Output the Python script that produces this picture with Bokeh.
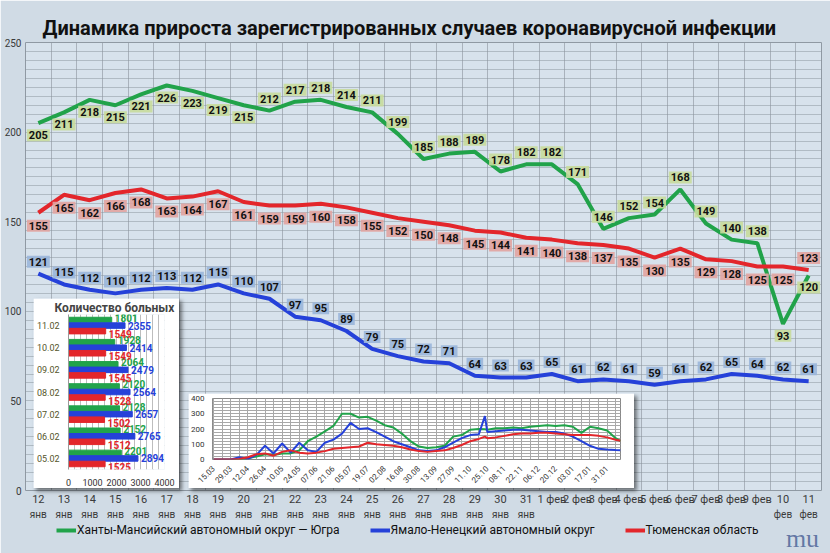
import math

import pandas as pd
from bokeh.core.properties import value
from bokeh.embed import file_html
from bokeh.models import (ColumnDataSource, DatetimeTickFormatter, FactorRange,
                          FixedTicker, Label, Legend, LegendItem, LinearAxis)
from bokeh.plotting import figure
from bokeh.resources import INLINE
from bokeh.transform import dodge

TITLE = "Динамика прироста зарегистрированных случаев коронавирусной инфекции"

day_labels = ["12\nянв", "13\nянв", "14\nянв", "15\nянв", "16\nянв", "17\nянв",
              "18\nянв", "19\nянв", "20\nянв", "21\nянв", "22\nянв", "23\nянв",
              "24\nянв", "25\nянв", "26\nянв", "27\nянв", "28\nянв", "29\nянв",
              "30\nянв", "31\nянв", "1 фев", "2 фев", "3 фев", "4 фев", "5 фев",
              "6 фев", "7 фев", "8 фев", "9 фев", "10\nфев", "11\nфев"]

hmao = [205, 211, 218, 215, 221, 226, 223, 219, 215, 212, 217, 218, 214, 211, 199, 185,
        188, 189, 178, 182, 182, 171, 146, 152, 154, 168, 149, 140, 138, 93, 120]
yanao = [121, 115, 112, 110, 112, 113, 112, 115, 110, 107, 97, 95, 89, 79, 75, 72,
         71, 64, 63, 63, 65, 61, 62, 61, 59, 61, 62, 65, 64, 62, 61]
tyumen = [155, 165, 162, 166, 168, 163, 164, 167, 161, 159, 159, 160, 158, 155, 152, 150,
          148, 145, 144, 141, 140, 138, 137, 135, 130, 135, 129, 128, 125, 125, 123]

legend_names = ["Ханты-Мансийский автономный округ — Югра",
                "Ямало-Ненецкий автономный округ",
                "Тюменская область"]

# inset: patients count
bar_days = ["05.02", "06.02", "07.02", "08.02", "09.02", "10.02", "11.02"]
bar_hmao = [2201, 2152, 2128, 2120, 2064, 1928, 1801]
bar_yanao = [2894, 2765, 2657, 2564, 2479, 2414, 2355]
bar_tyumen = [1525, 1512, 1502, 1528, 1545, 1549, 1549]

# inset: whole epidemic, sampled about weekly
inset_dates = ["2020-03-15", "2020-03-22", "2020-03-29", "2020-04-05", "2020-04-12",
               "2020-04-19", "2020-04-26", "2020-05-03", "2020-05-10", "2020-05-17",
               "2020-05-24", "2020-05-31", "2020-06-07", "2020-06-14", "2020-06-21",
               "2020-06-28", "2020-07-05", "2020-07-12", "2020-07-19", "2020-07-26",
               "2020-08-02", "2020-08-09", "2020-08-16", "2020-08-23", "2020-08-30",
               "2020-09-06", "2020-09-13", "2020-09-20", "2020-09-27", "2020-10-04",
               "2020-10-11", "2020-10-18", "2020-10-23", "2020-10-25", "2020-11-01",
               "2020-11-08", "2020-11-15", "2020-11-22", "2020-11-29", "2020-12-06",
               "2020-12-13", "2020-12-20", "2020-12-27", "2021-01-03", "2021-01-10",
               "2021-01-17", "2021-01-24", "2021-01-31", "2021-02-07", "2021-02-11"]
inset_hmao = [0, 0, 0, 2, 8, 20, 35, 30, 40, 40, 60, 120, 150, 185, 220, 300, 300, 275,
              280, 255, 225, 210, 170, 120, 85, 75, 80, 90, 150, 160, 195, 200, 198, 195,
              205, 205, 210, 205, 215, 220, 225, 220, 225, 215, 175, 215, 205, 190, 140, 120]
inset_yanao = [0, 0, 0, 15, 5, 30, 90, 40, 105, 45, 110, 60, 50, 110, 130, 170, 240, 200,
               205, 180, 150, 120, 100, 80, 60, 55, 60, 80, 110, 140, 160, 165, 285, 180,
               185, 190, 195, 195, 190, 185, 180, 180, 170, 150, 120, 90, 70, 65, 62, 61]
inset_tyumen = [0, 0, 0, 3, 15, 35, 40, 25, 50, 60, 45, 40, 45, 55, 70, 75, 80, 85, 110,
                100, 95, 90, 80, 65, 55, 50, 55, 60, 75, 95, 120, 135, 150, 140, 145, 155,
                165, 170, 170, 175, 175, 170, 165, 160, 160, 160, 155, 145, 130, 123]
inset_ticks = ["15.03.2020", "29.03.2020", "12.04.2020", "26.04.2020", "10.05.2020",
               "24.05.2020", "07.06.2020", "21.06.2020", "05.07.2020", "19.07.2020",
               "02.08.2020", "16.08.2020", "30.08.2020", "13.09.2020", "27.09.2020",
               "11.10.2020", "25.10.2020", "08.11.2020", "22.11.2020", "06.12.2020",
               "20.12.2020", "03.01.2021", "17.01.2021", "31.01.2021"]

GREEN = "#21a34a"
BLUE = "#2541d9"
RED = "#e3262b"
FONT = "Roboto"

x = list(range(len(hmao)))
n = len(x)

p = figure(width=830, height=553, x_range=(-0.5, n - 0.5), y_range=(0, 250),
           output_backend="svg", toolbar_location=None, x_axis_location=None,
           min_border_left=25, min_border_right=9, min_border_top=42, min_border_bottom=63)
p.background_fill_color = "#d7e2ec"
p.border_fill_color = "#d0dbe5"
p.outline_line_color = "#8f99a3"

p.title.text = TITLE
p.title.align = "left"
p.title.offset = 17
p.title.text_font = FONT
p.title.text_font_size = "20px"
p.title.text_font_style = "bold"
p.title.text_color = "#111111"
p.title.standoff = 5

p.xgrid.ticker = FixedTicker(ticks=[i - 0.5 for i in range(n + 1)])
p.ygrid.ticker = FixedTicker(ticks=list(range(0, 251, 5)))
p.xgrid.grid_line_color = "#8a939c"
p.ygrid.grid_line_color = "#8a939c"
p.xgrid.grid_line_alpha = 0.6
p.ygrid.grid_line_alpha = 0.5

# day number on one axis, month on a second one underneath
top_ax = LinearAxis(ticker=FixedTicker(ticks=x),
                    major_label_overrides={i: lab.split("\n")[0] for i, lab in zip(x, day_labels)},
                    major_label_text_font_size="11px", major_label_standoff=2)
low_ax = LinearAxis(ticker=FixedTicker(ticks=x),
                    major_label_overrides={i: (lab.split("\n")[1] if "\n" in lab else " ")
                                           for i, lab in zip(x, day_labels)},
                    major_label_text_font_size="10px", major_label_standoff=0)
p.add_layout(top_ax, "below")
p.add_layout(low_ax, "below")
p.yaxis.ticker = FixedTicker(ticks=list(range(0, 251, 50)))
p.yaxis.major_label_text_font_size = "10px"
p.yaxis.major_label_standoff = 4
for ax in (top_ax, low_ax, p.yaxis[0]):
    ax.axis_line_color = None
    ax.major_tick_line_color = None
    ax.minor_tick_line_color = None
    ax.major_tick_out = 0
    ax.major_tick_in = 0
    ax.minor_tick_out = 0
    ax.major_label_text_font = FONT
    ax.major_label_text_color = "#3a3a3a"

p.line(x, hmao, color=GREEN, line_width=4)
p.line(x, yanao, color=BLUE, line_width=4)
p.line(x, tyumen, color=RED, line_width=4)

# value boxes, placed above or below the line like in the original
series = [
    (hmao, "#c8dc9c", [12 if (i < 9 or i >= n - 2) else -12 for i in x]),
    (tyumen, "#e2a4a1", [13 if i < n - 1 else -12 for i in x]),
    (yanao, "#9ab6da", [-12] * n),
]
for vals, fill, offs in series:
    src = ColumnDataSource(dict(x=x, y=vals, t=[str(v) for v in vals], off=offs))
    p.text(x="x", y="y", text="t", y_offset="off", source=src,
           text_align="center", text_baseline="middle",
           text_font=value(FONT), text_font_size="11px", text_font_style="bold",
           text_color="#111111", background_fill_color=fill, background_fill_alpha=0.9,
           padding=2)

# --- legend strip under the axes (its own transparent plot)
pleg = figure(width=774, height=32, x_range=(0, 774), y_range=(0, 32),
              output_backend="svg", toolbar_location=None,
              x_axis_location=None, y_axis_location=None, min_border=0)
pleg.styles = {"position": "absolute", "left": "56px", "top": "521px"}
pleg.grid.visible = False
pleg.outline_line_color = None
pleg.background_fill_alpha = 0
pleg.border_fill_alpha = 0
# same series again, they fall outside this strip's ranges and only feed the legend
proxies = [pleg.line(x, vals, color=c, line_width=4)
           for vals, c in ((hmao, GREEN), (yanao, BLUE), (tyumen, RED))]
legend = Legend(items=[LegendItem(label=name, renderers=[r])
                       for name, r in zip(legend_names, proxies)],
                orientation="horizontal", location="top_left",
                background_fill_alpha=0, border_line_alpha=0,
                label_text_font=FONT, label_text_font_size="12px",
                label_text_color="#111111", glyph_height=18,
                glyph_width=20, label_standoff=1, spacing=30, padding=0, margin=0)
pleg.add_layout(legend)
pleg.add_layout(Label(x=746, y=15, text="mu", text_font="Liberation Serif",
                      text_font_size="26px", text_color="#4f6699", text_align="center",
                      text_baseline="middle", text_alpha=0.85))

# --- inset with number of patients
bsrc = ColumnDataSource(dict(day=bar_days, g=bar_hmao, b=bar_yanao, r=bar_tyumen,
                             gt=[str(v) for v in bar_hmao],
                             bt=[str(v) for v in bar_yanao],
                             rt=[str(v) for v in bar_tyumen]))
pb = figure(width=146, height=190, y_range=FactorRange(*bar_days), x_range=(0, 4000),
            output_backend="svg", toolbar_location=None,
            min_border_left=28, min_border_right=15, min_border_top=12, min_border_bottom=16)
pb.styles = {"position": "absolute", "left": "33px", "top": "298px",
             "box-shadow": "3px 3px 4px rgba(0,0,0,0.5)"}
pb.title.text = "Количество больных"
pb.title.align = "left"
pb.title.offset = -14
pb.title.text_font = FONT
pb.title.text_font_size = "12px"
pb.title.text_font_style = "bold"
pb.title.standoff = 0
pb.outline_line_color = None
pb.ygrid.grid_line_color = None
pb.xgrid.ticker = FixedTicker(ticks=list(range(0, 4001, 250)))
pb.xgrid.grid_line_color = "#bdbdbd"
pb.xaxis.ticker = FixedTicker(ticks=list(range(0, 4001, 1000)))
for ax in (pb.xaxis[0], pb.yaxis[0]):
    ax.axis_line_color = None
    ax.major_tick_line_color = None
    ax.minor_tick_line_color = None
    ax.major_label_text_font_size = "9px"
    ax.major_label_text_font = FONT
    ax.major_label_standoff = 3
pb.xaxis.major_label_text_color = "#333333"
pb.yaxis.major_label_text_color = "#55552a"
pb.yaxis.axis_line_color = "#999999"

for col, lab, off, color, dy in (("g", "gt", 0.25, GREEN, -2), ("b", "bt", 0.0, BLUE, 0),
                                 ("r", "rt", -0.25, RED, 3)):
    ypos = dodge("day", off, range=pb.y_range)
    pb.hbar(y=ypos, right=col, height=0.25, source=bsrc, color=color)
    pb.text(x=col, y=ypos, text=lab, source=bsrc, x_offset=3, y_offset=dy,
            text_align="left", text_baseline="middle", text_color=color,
            text_font=value(FONT), text_font_size="10px", text_font_style="bold")

# --- inset with the whole epidemic
dts = pd.to_datetime(inset_dates)
pl = figure(width=446, height=95, x_axis_type="datetime",
            x_range=(pd.Timestamp("2020-03-14"), pd.Timestamp("2021-02-11")),
            y_range=(0, 400), output_backend="svg", toolbar_location=None,
            min_border_left=22, min_border_right=14, min_border_top=5, min_border_bottom=26)
pl.styles = {"position": "absolute", "left": "188px", "top": "393px",
             "box-shadow": "3px 3px 4px rgba(0,0,0,0.5)"}
pl.outline_line_color = "#888888"
tick_ms = [pd.to_datetime(d, format="%d.%m.%Y").value // 10**6 for d in inset_ticks]
week_ms = [t for t0 in tick_ms for t in (t0, t0 + 7 * 86400000)]
pl.xaxis.ticker = FixedTicker(ticks=tick_ms)
pl.xaxis.formatter = DatetimeTickFormatter(days="%d.%m", months="%d.%m", years="%d.%m")
pl.xaxis.major_label_orientation = math.pi / 4
pl.xgrid.ticker = FixedTicker(ticks=week_ms)
pl.yaxis.ticker = FixedTicker(ticks=list(range(0, 401, 100)))
pl.ygrid.ticker = FixedTicker(ticks=list(range(0, 401, 20)))
pl.xgrid.grid_line_color = "#a8a8a8"
pl.ygrid.grid_line_color = "#a8a8a8"
for ax in (pl.xaxis[0], pl.yaxis[0]):
    ax.axis_line_color = None
    ax.major_tick_line_color = None
    ax.minor_tick_line_color = None
    ax.major_label_text_font_size = "8px"
    ax.major_label_text_font = FONT
    ax.major_label_text_color = "#333333"
    ax.major_label_standoff = 2

pl.line(dts, inset_hmao, color=GREEN, line_width=2)
pl.line(dts, inset_yanao, color=BLUE, line_width=2)
pl.line(dts, inset_tyumen, color=RED, line_width=2)

open("out.html", "w").write(file_html([p, pb, pl, pleg], INLINE))
